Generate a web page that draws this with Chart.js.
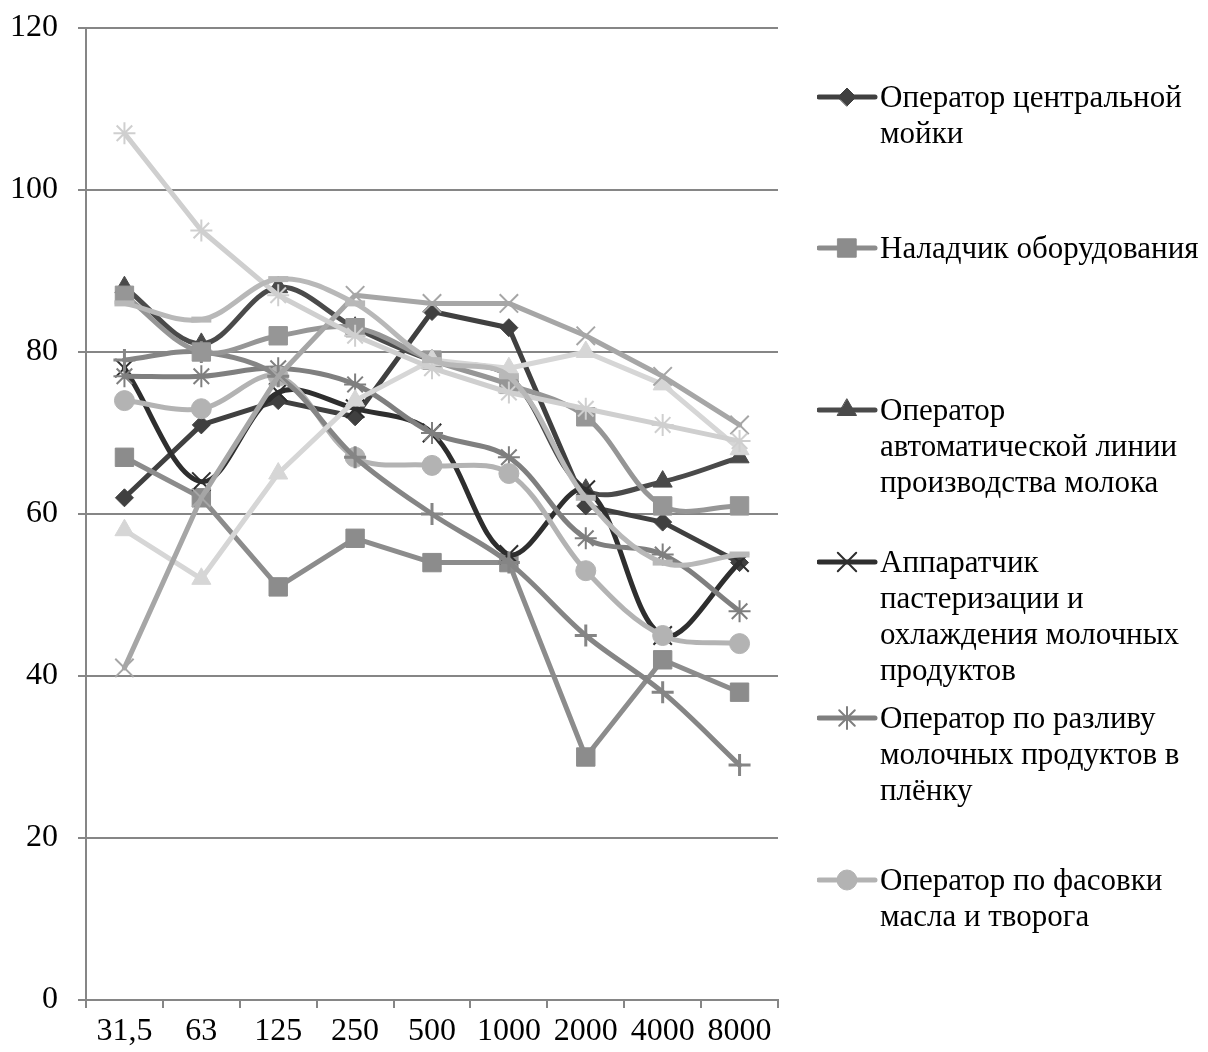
<!DOCTYPE html>
<html>
<head>
<meta charset="utf-8">
<script src="https://cdn.jsdelivr.net/npm/chart.js@4.4.1/dist/chart.umd.min.js"></script>
<style>
  html, body { margin: 0; padding: 0; background: #fff; }
  #wrap { position: relative; width: 1208px; height: 1052px; overflow: hidden; }
  #chart { position: absolute; left: 0; top: 0; }
  .lg { position: absolute; left: 817px; font: 31px "Liberation Serif", "Times New Roman", serif;
        line-height: 36px; color: #000; white-space: nowrap; }
  .lg canvas { position: absolute; left: 0; top: 0; }
  .lg span { position: absolute; left: 63px; top: 0; }
</style>
</head>
<body>
<div id="wrap">
  <canvas id="chart" width="1208" height="1052"></canvas>
  <div id="legend"></div>
</div>
<script>
// Octave-band centre frequencies, Hz
const freqLabels = ['31,5', '63', '125', '250', '500', '1000', '2000', '4000', '8000'];

// Sound pressure levels by workplace, dB
const washOperator      = [62, 71, 74, 72, 85, 83, 61, 59, 54];
const equipmentAdjuster = [67, 62, 51, 57, 54, 54, 30, 42, 38];
const milkLineOperator  = [88, 81, 88, 83, 79, 77, 63, 64, 67];
const pasteurizer       = [78, 64, 75, 73, 70, 55, 63, 45, 54];
const filmFiller        = [77, 77, 78, 76, 70, 67, 57, 55, 48];
const butterPacker      = [74, 73, 77, 67, 66, 65, 53, 45, 44];
const series7           = [79, 80, 77, 67, 60, 54, 45, 38, 29];
const series8           = [87, 80, 82, 83, 79, 76, 72, 61, 61];
const series9           = [58, 52, 65, 74, 79, 78, 80, 76, 68];
const series10          = [41, 62, 77, 87, 86, 86, 82, 77, 71];
const series11          = [107, 95, 87, 82, 78, 75, 73, 71, 69];
const series12          = [86, 84, 89, 86, 79, 77, 62, 54, 55];

// Legend captions (first six series are listed)
const seriesNames = [
  ['Оператор центральной', 'мойки'],
  ['Наладчик оборудования'],
  ['Оператор', 'автоматической линии', 'производства молока'],
  ['Аппаратчик', 'пастеризации и', 'охлаждения молочных', 'продуктов'],
  ['Оператор по разливу', 'молочных продуктов в', 'плёнку'],
  ['Оператор по фасовки', 'масла и творога'],
  ['Ряд 7'], ['Ряд 8'], ['Ряд 9'], ['Ряд 10'], ['Ряд 11'], ['Ряд 12']
];

const seriesData = [washOperator, equipmentAdjuster, milkLineOperator, pasteurizer,
  filmFiller, butterPacker, series7, series8, series9, series10, series11, series12];

// Appearance of each series: colour, marker, smoothing
const looks = [
  { color: '#404040', style: 'rectRot',  r: 9,  bw: 1, tension: 0 },
  { color: '#8c8c8c', style: 'rect',     r: 13, bw: 1, tension: 0 },
  { color: '#4a4a4a', style: 'triangle', r: 11, bw: 1, tension: 0.35 },
  { color: '#2e2e2e', style: 'crossRot', r: 13, bw: 2, tension: 0.35 },
  { color: '#7f7f7f', style: 'star',     r: 11, bw: 2, tension: 0.35 },
  { color: '#b3b3b3', style: 'circle',   r: 10, bw: 1, tension: 0.35 },
  { color: '#858585', style: 'cross',    r: 11, bw: 3, tension: 0.35 },
  { color: '#969696', style: 'rect',     r: 13, bw: 1, tension: 0.35 },
  { color: '#d6d6d6', style: 'triangle', r: 11, bw: 1, tension: 0 },
  { color: '#a6a6a6', style: 'crossRot', r: 13, bw: 2, tension: 0 },
  { color: '#cfcfcf', style: 'star',     r: 11, bw: 2, tension: 0 },
  { color: '#b8b8b8', style: 'line',     r: 10, bw: 6, tension: 0.35 }
];

const N = seriesData.length;
const datasets = seriesData.map((vals, i) => ({
  label: seriesNames[i].join(' '),
  data: vals,
  borderColor: looks[i].color,
  backgroundColor: looks[i].color,
  borderWidth: 5,
  borderJoinStyle: 'round',
  borderCapStyle: 'round',
  tension: looks[i].tension,
  fill: false,
  pointStyle: looks[i].style,
  pointRadius: looks[i].r,
  pointBorderWidth: looks[i].bw,
  pointBackgroundColor: looks[i].color,
  pointBorderColor: looks[i].color,
  order: N - i
}));

const FONT = '"Liberation Serif", "Times New Roman", serif';
const AXIS = '#868686';

new Chart(document.getElementById('chart'), {
  type: 'line',
  data: { labels: freqLabels, datasets },
  options: {
    responsive: false,
    animation: false,
    devicePixelRatio: 1,
    layout: { autoPadding: false, padding: { top: 28, right: 430, bottom: 0, left: 0 } },
    plugins: { legend: { display: false }, tooltip: { enabled: false } },
    scales: {
      x: {
        offset: true,
        grid: { offset: true, drawOnChartArea: false, drawTicks: true, tickLength: 8, color: AXIS, lineWidth: 2 },
        border: { color: AXIS, width: 2 },
        ticks: { font: { family: FONT, size: 32 }, color: '#000', padding: 4, maxRotation: 0, autoSkip: false },
        afterFit: s => { s.height = 52; s.paddingLeft = 0; s.paddingRight = 0; }
      },
      y: {
        min: 0, max: 120,
        grid: { color: AXIS, lineWidth: 2, tickLength: 8 },
        border: { color: AXIS, width: 2 },
        ticks: { stepSize: 20, font: { family: FONT, size: 32 }, color: '#000', padding: 20 },
        afterFit: s => { s.width = 86; s.paddingTop = 0; s.paddingBottom = 0; }
      }
    }
  }
});

// Side legend for the first six series
const legendTops = [79, 230, 392, 544, 700, 862];
const legendBox = document.getElementById('legend');
legendTops.forEach((top, i) => {
  const item = document.createElement('div');
  item.className = 'lg';
  item.style.top = top + 'px';
  const c = document.createElement('canvas');
  c.width = 62; c.height = 36;
  const ctx = c.getContext('2d');
  const lk = looks[i];
  ctx.strokeStyle = lk.color;
  ctx.fillStyle = lk.color;
  ctx.lineWidth = 5;
  ctx.lineCap = 'round';
  ctx.beginPath(); ctx.moveTo(2, 18); ctx.lineTo(58, 18); ctx.stroke();
  ctx.lineWidth = lk.bw;
  if (Chart.helpers && Chart.helpers.drawPoint) {
    Chart.helpers.drawPoint(ctx, { pointStyle: lk.style, radius: lk.r, borderWidth: lk.bw, rotation: 0 }, 30, 18);
  }
  item.appendChild(c);
  const t = document.createElement('span');
  t.innerHTML = seriesNames[i].join('<br>');
  item.appendChild(t);
  legendBox.appendChild(item);
});
</script>
</body>
</html>
